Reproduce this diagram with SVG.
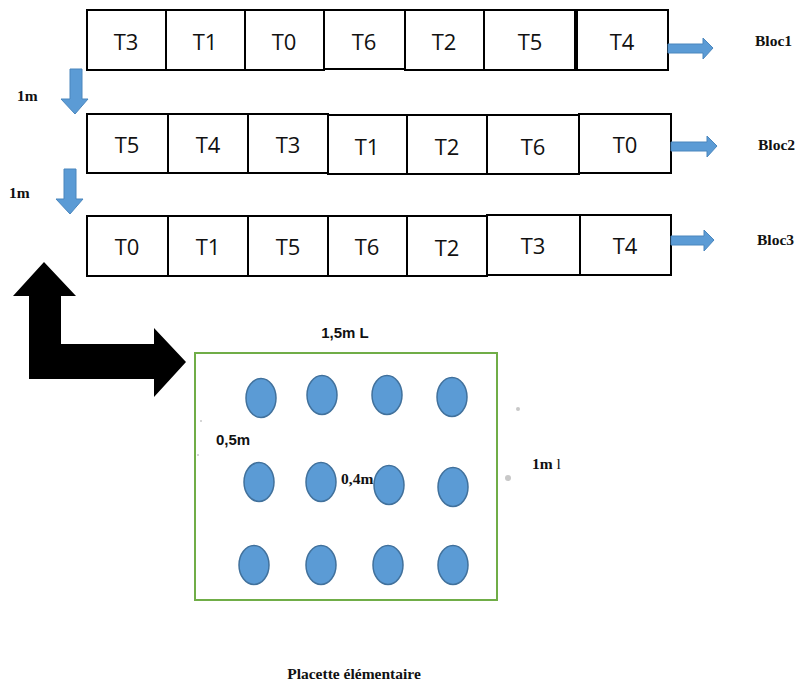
<svg xmlns="http://www.w3.org/2000/svg" width="799" height="684" viewBox="0 0 799 684">
  <style>
    .cell { fill: #ffffff; stroke: #000000; stroke-width: 2; }
    .t { font-family: "Open Sans", "Liberation Sans", sans-serif; font-size: 22px; fill: #111111; text-anchor: middle; }
    .lbl { font-family: "Liberation Serif", serif; font-weight: bold; font-size: 15.5px; fill: #111111; }
    .sb { font-family: "Liberation Sans", sans-serif; font-weight: bold; font-size: 15px; fill: #111111; }
    .blue { fill: #5b9bd5; stroke: #4a86bd; stroke-width: 1; }
    .plant { fill: #5b9bd5; stroke: #41719c; stroke-width: 1.5; }
    .dot { fill: #c8c8c8; }
  </style>

  <!-- Bloc 1 -->
  <g id="bloc1">
    <rect class="cell" x="87" y="10" width="79" height="60"/>
    <rect class="cell" x="166" y="10" width="79" height="60"/>
    <rect class="cell" x="245" y="10" width="79" height="60"/>
    <rect class="cell" x="324" y="10" width="81" height="59"/>
    <rect class="cell" x="405" y="10" width="79" height="60"/>
    <rect class="cell" x="484" y="10" width="91" height="60"/>
    <rect class="cell" x="577" y="10" width="91" height="60"/>
    <text class="t" x="126" y="50">T3</text>
    <text class="t" x="205" y="50">T1</text>
    <text class="t" x="284" y="50">T0</text>
    <text class="t" x="364" y="50">T6</text>
    <text class="t" x="444" y="50">T2</text>
    <text class="t" x="530" y="50">T5</text>
    <text class="t" x="622" y="50">T4</text>
    <text class="lbl" x="755" y="46">Bloc1</text>
  </g>

  <!-- Bloc 2 -->
  <g id="bloc2">
    <rect class="cell" x="87" y="114" width="81" height="59"/>
    <rect class="cell" x="168" y="114" width="80" height="59"/>
    <rect class="cell" x="248" y="114" width="80" height="59"/>
    <rect class="cell" x="328" y="115" width="79" height="59"/>
    <rect class="cell" x="407" y="115" width="80" height="59"/>
    <rect class="cell" x="487" y="115" width="92" height="59"/>
    <rect class="cell" x="579" y="114" width="92" height="59"/>
    <text class="t" x="127" y="153">T5</text>
    <text class="t" x="208" y="153">T4</text>
    <text class="t" x="288" y="153">T3</text>
    <text class="t" x="367" y="155">T1</text>
    <text class="t" x="447" y="155">T2</text>
    <text class="t" x="533" y="155">T6</text>
    <text class="t" x="625" y="153">T0</text>
    <text class="lbl" x="758" y="150">Bloc2</text>
  </g>

  <!-- Bloc 3 -->
  <g id="bloc3">
    <rect class="cell" x="87" y="216" width="81" height="60"/>
    <rect class="cell" x="168" y="216" width="80" height="60"/>
    <rect class="cell" x="248" y="216" width="80" height="60"/>
    <rect class="cell" x="328" y="216" width="79" height="60"/>
    <rect class="cell" x="407" y="216" width="80" height="60"/>
    <rect class="cell" x="487" y="215" width="93" height="60"/>
    <rect class="cell" x="580" y="215" width="91" height="60"/>
    <text class="t" x="127" y="255">T0</text>
    <text class="t" x="208" y="255">T1</text>
    <text class="t" x="288" y="255">T5</text>
    <text class="t" x="367" y="255">T6</text>
    <text class="t" x="447" y="256">T2</text>
    <text class="t" x="533" y="254">T3</text>
    <text class="t" x="625" y="254">T4</text>
    <text class="lbl" x="757" y="245">Bloc3</text>
  </g>

  <!-- Elementary plot -->
  <g id="placette">
    <rect x="195" y="353" width="302" height="247" fill="#ffffff" stroke="#70ad47" stroke-width="2"/>
    <ellipse class="plant" cx="261" cy="398" rx="15" ry="19.5"/>
    <ellipse class="plant" cx="322" cy="395" rx="15" ry="19.5"/>
    <ellipse class="plant" cx="387" cy="395" rx="15" ry="19.5"/>
    <ellipse class="plant" cx="452" cy="397" rx="15" ry="19.5"/>
    <ellipse class="plant" cx="259" cy="482" rx="15" ry="19.5"/>
    <ellipse class="plant" cx="321" cy="482" rx="15" ry="19.5"/>
    <ellipse class="plant" cx="389" cy="485" rx="15" ry="19.5"/>
    <ellipse class="plant" cx="453" cy="487" rx="15" ry="19.5"/>
    <ellipse class="plant" cx="254" cy="565" rx="15" ry="19.5"/>
    <ellipse class="plant" cx="321" cy="565" rx="15" ry="19.5"/>
    <ellipse class="plant" cx="388" cy="565" rx="15" ry="19.5"/>
    <ellipse class="plant" cx="453" cy="565" rx="15" ry="19.5"/>
    <text class="sb" x="345" y="338" text-anchor="middle" font-size="16.5">1,5m L</text>
    <text class="sb" x="216" y="445">0,5m</text>
    <text class="lbl" x="341" y="484" font-size="16">0,4m</text>
    <text class="lbl" x="532" y="469">1m <tspan font-weight="normal">l</tspan></text>
    <circle class="dot" cx="518" cy="409" r="2"/>
    <circle class="dot" cx="508" cy="478" r="3"/>
    <circle class="dot" cx="201" cy="421" r="1"/>
    <circle class="dot" cx="198" cy="455" r="1"/>
    <text class="lbl" x="354" y="679" text-anchor="middle" font-size="17">Placette élémentaire</text>
  </g>

  <!-- Arrows -->
  <g id="connectors">
    <!-- block exits -->
    <polygon class="blue" points="668,44 703,44 703,38 713,48 703,59 703,53 668,53"/>
    <polygon class="blue" points="671,142 707,142 707,136 717,146 707,157 707,151 671,151"/>
    <polygon class="blue" points="671,236 704,236 704,230 714,240 704,251 704,245 671,245"/>
    <!-- 1m spacing between blocks -->
    <polygon class="blue" points="70,69 82,69 82,99 88,99 75,114 61,99 70,99"/>
    <polygon class="blue" points="64,169 76,169 76,199 83,199 70,214 56,199 64,199"/>
    <text class="lbl" x="17" y="101" font-size="15">1m</text>
    <text class="lbl" x="9" y="198" font-size="15">1m</text>
    <!-- bent arrow to elementary plot -->
    <polygon fill="#000000" points="44,262 76,296 61,296 61,344 154,344 154,328 186,362 154,397 154,379 29,379 29,296 13,296"/>
  </g>
</svg>
